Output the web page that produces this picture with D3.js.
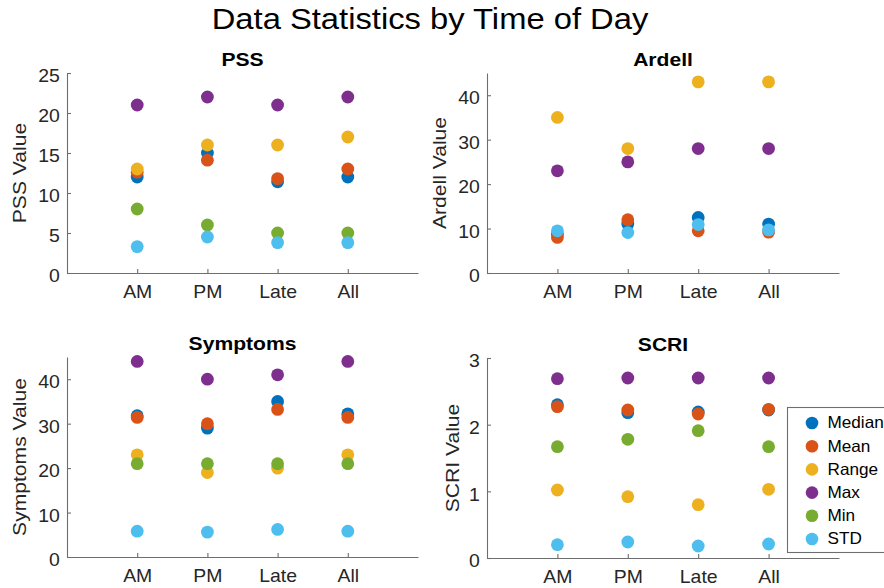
<!DOCTYPE html>
<html>
<head>
<meta charset="utf-8">
<script src="https://cdn.jsdelivr.net/npm/d3@7"></script>
<style>
  body { margin: 0; background: #fff; }
  svg { display: block; font-family: "Liberation Sans", Arial, sans-serif; }
</style>
</head>
<body>
<svg id="drawing_region"></svg>
<script>
// categories on the x axis
const categories = ['AM', 'PM', 'Late', 'All'];
const statNames = ['Median', 'Mean', 'Range', 'Max', 'Min', 'STD'];
const statColors = ['#0072BD', '#D95319', '#EDB120', '#7E2F8E', '#77AC30', '#4DBEEE'];

// values per stat, each array follows categories order
const pssMedian = [12, 15, 11.4, 12];
const pssMean   = [12.6, 14.1, 11.8, 13];
const pssRange  = [13, 16, 16, 17];
const pssMax    = [21, 22, 21, 22];
const pssMin    = [8, 6, 5, 5];
const pssStd    = [3.3, 4.5, 3.8, 3.8];

const ardMedian = [8.8, 11, 12.5, 11];
const ardMean   = [8, 12, 9.5, 9.2];
const ardRange  = [35, 28, 43, 43];
const ardMax    = [23, 25, 28, 28];
const ardMin    = [null, null, null, null];
const ardStd    = [9.5, 9.1, 10.9, 9.7];

const symMedian = [31.8, 29, 35, 32.2];
const symMean   = [31.4, 30, 33.2, 31.4];
const symRange  = [23, 19, 20, 23];
const symMax    = [44, 40, 41, 44];
const symMin    = [21, 21, 21, 21];
const symStd    = [5.8, 5.6, 6.2, 5.8];

const scriMedian = [2.3, 2.18, 2.19, 2.22];
const scriMean   = [2.27, 2.22, 2.16, 2.23];
const scriRange  = [1.02, 0.92, 0.8, 1.03];
const scriMax    = [2.69, 2.7, 2.7, 2.7];
const scriMin    = [1.67, 1.78, 1.91, 1.67];
const scriStd    = [0.2, 0.24, 0.18, 0.21];

const panels = [
    { title: 'PSS', label: 'PSS Value', yMax: 25, ticks: [0,5,10,15,20,25],
      series: [pssMedian, pssMean, pssRange, pssMax, pssMin, pssStd],
      x0: 67, x1: 418, y0: 273, y1: 73, labelX: 20.5 },
    { title: 'Ardell', label: 'Ardell Value', yMax: 45, ticks: [0,10,20,30,40],
      series: [ardMedian, ardMean, ardRange, ardMax, ardMin, ardStd],
      x0: 487, x1: 839, y0: 273, y1: 73, labelX: 440.5 },
    { title: 'Symptoms', label: 'Symptoms Value', yMax: 45, ticks: [0,10,20,30,40],
      series: [symMedian, symMean, symRange, symMax, symMin, symStd],
      x0: 67, x1: 418, y0: 557, y1: 357, labelX: 20.5 },
    { title: 'SCRI', label: 'SCRI Value', yMax: 3, ticks: [0,1,2,3],
      series: [scriMedian, scriMean, scriRange, scriMax, scriMin, scriStd],
      x0: 487, x1: 839, y0: 558, y1: 358, labelX: 453.5 }
];

const W = 884, H = 588;
const SX = 1.11;            // text in the picture is a bit wider than Arial
const axisColor = '#262626';
const lineColor = '#6e6e6e';

const svg = d3.select('#drawing_region').attr('width', W).attr('height', H);

svg.append('text')
    .attr('transform', `translate(430,28.5) scale(${SX},1)`)
    .attr('text-anchor', 'middle')
    .attr('font-size', 29.5)
    .attr('fill', '#000')
    .text('Data Statistics by Time of Day');

panels.forEach(p => {
    const xscale = d3.scaleLinear().domain([0, 5]).range([p.x0, p.x1]);
    const yscale = d3.scaleLinear().domain([0, p.yMax]).range([p.y0, p.y1]);

    const g = svg.append('g');

    // x axis
    const xAxis = d3.axisBottom(xscale)
        .tickValues([1, 2, 3, 4])
        .tickFormat(d => categories[d - 1])
        .tickSizeInner(-4).tickSizeOuter(0).tickPadding(13);
    const gx = g.append('g').attr('transform', `translate(0,${p.y0})`).call(xAxis);

    // y axis
    const yAxis = d3.axisLeft(yscale)
        .tickValues(p.ticks)
        .tickFormat(d3.format('d'))
        .tickSizeInner(-4).tickSizeOuter(0).tickPadding(6.5);
    const gy = g.append('g').attr('transform', `translate(${p.x0},0)`).call(yAxis);
    gy.selectAll('.tick text').attr('dy', '0.5em');

    [gx, gy].forEach(a => {
        a.select('.domain').attr('stroke', lineColor).attr('stroke-width', 1.1);
        a.selectAll('.tick line').attr('stroke', lineColor).attr('stroke-width', 1.1);
        a.selectAll('.tick text').attr('fill', axisColor).attr('font-size', 17.5)
            .attr('font-family', '"Liberation Sans", Arial, sans-serif')
            .attr('transform', `scale(${SX},1)`);
    });

    // subplot title
    g.append('text')
        .attr('transform', `translate(${(p.x0 + p.x1) / 2},${p.y1 - 7}) scale(${SX},1)`)
        .attr('text-anchor', 'middle')
        .attr('font-size', 19).attr('font-weight', 'bold')
        .text(p.title);

    // y label
    g.append('text')
        .attr('transform', `translate(${p.labelX},${(p.y0 + p.y1) / 2}) rotate(-90) scale(${SX},1)`)
        .attr('text-anchor', 'middle')
        .attr('dominant-baseline', 'middle')
        .attr('font-size', 19).attr('fill', axisColor)
        .text(p.label);

    // points, drawn series by series so later stats sit on top
    p.series.forEach((vals, si) => {
        g.selectAll(null)
            .data(vals.map((v, i) => ({ i: i, v: v })).filter(d => d.v !== null))
            .enter()
            .append('circle')
            .attr('cx', d => xscale(d.i + 1))
            .attr('cy', d => yscale(d.v))
            .attr('r', 6.4)
            .attr('fill', statColors[si]);
    });
});

// legend
const legend = svg.append('g').attr('transform', 'translate(787.5,407.5)');
legend.append('rect')
    .attr('x', 0).attr('y', 0).attr('width', 110).attr('height', 145)
    .attr('fill', '#fff').attr('stroke', lineColor).attr('stroke-width', 1.1);
const rowY = d3.scaleLinear().domain([0, statNames.length - 1]).range([15.5, 131.5]);
statNames.forEach((name, i) => {
    legend.append('circle')
        .attr('cx', 24.5).attr('cy', rowY(i)).attr('r', 6.3)
        .attr('fill', statColors[i]);
    legend.append('text')
        .attr('transform', `translate(40,${rowY(i)}) scale(1.04,1)`)
        .attr('dominant-baseline', 'central')
        .attr('font-size', 16.5).attr('fill', '#000')
        .text(name);
});
</script>
</body>
</html>
